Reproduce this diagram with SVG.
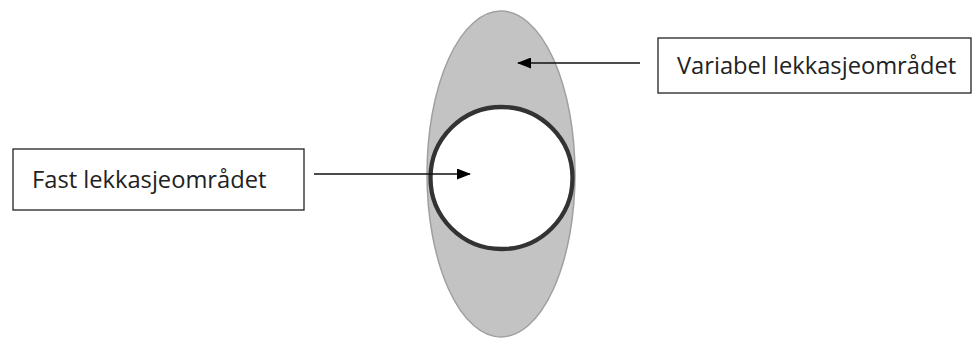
<svg xmlns="http://www.w3.org/2000/svg" width="973" height="338" viewBox="0 0 973 338">
<style>
.box{fill:#fff;stroke:#222;stroke-width:1.3}
.lbl{font-family:"Open Sans","Noto Sans",sans-serif;font-size:23.7px;fill:#222}
.con{stroke:#111;stroke-width:1.3;fill:none;marker-end:url(#ah)}
</style>
<defs>
<marker id="ah" markerWidth="14" markerHeight="11" refX="13" refY="5.5" orient="auto" markerUnits="userSpaceOnUse">
<path d="M0,0 L14,5.5 L0,11 Z" fill="#000"/>
</marker>
</defs>
<rect width="973" height="338" fill="#fff"/>
<g id="variable-area">
<ellipse cx="501" cy="174" rx="74" ry="163" fill="#c3c3c3" stroke="#a0a0a0" stroke-width="1.5"/>
</g>
<g id="fixed-area">
<circle cx="501.5" cy="178" r="71" fill="#fff" stroke="#333" stroke-width="4.3"/>
</g>
<g id="label-variable">
<rect class="box" x="658" y="38" width="313" height="55"/>
<text class="lbl" x="677" y="74">Variabel lekkasjeområdet</text>
</g>
<g id="label-fixed">
<rect class="box" x="13" y="149" width="291" height="61"/>
<text class="lbl" x="32" y="188">Fast lekkasjeområdet</text>
</g>
<g id="connectors">
<line class="con" x1="640" y1="63" x2="518" y2="63"/>
<line class="con" x1="314" y1="174" x2="470" y2="174"/>
</g>
</svg>
